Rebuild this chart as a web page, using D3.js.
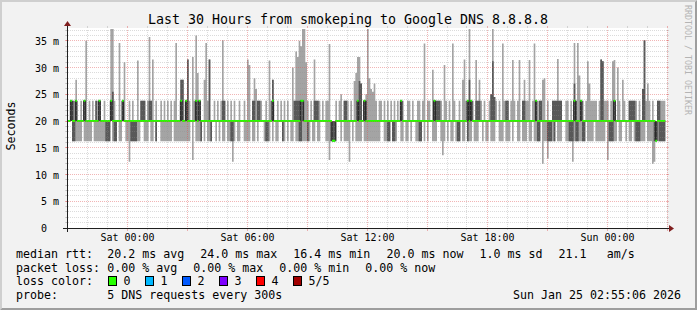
<!DOCTYPE html>
<html><head><meta charset="utf-8">
<script src="https://cdn.jsdelivr.net/npm/d3@7/dist/d3.min.js"></script>
<style>
html,body{margin:0;padding:0;background:#f2f2f2;}
svg{display:block;}
text{font-family:"DejaVu Sans Mono",monospace;fill:#000;}
</style></head><body>
<svg id="chart" width="697" height="310"></svg>
<script>
// ---------------- data ----------------
const titleText = "Last 30 Hours from smokeping to Google DNS 8.8.8.8";
const yAxisLabel = "Seconds";
const watermark = "RRDTOOL / TOBI OETIKER";
const startTime = new Date(2026, 0, 23, 21, 0);
const endTime = new Date(2026, 0, 25, 3, 0);
const stepMinutes = 5;
const yMax = 37.4;
const yTickValues = [0, 5, 10, 15, 20, 25, 30, 35];
const xTickLabels = ["Sat 00:00", "Sat 06:00", "Sat 12:00", "Sat 18:00", "Sun 00:00"];
const xTickTimes = [new Date(2026,0,24,0), new Date(2026,0,24,6), new Date(2026,0,24,12), new Date(2026,0,24,18), new Date(2026,0,25,0)];

// five sorted pings per 5-minute step (ms): lowest, 2nd, median, 4th, highest
const minRtt = [
20,20,20,16.2,16.2,16.2,16.2,16.2,16.2,20,16.2,16.2,
16.2,16.2,16.2,20,16.2,16.2,16.2,16.2,16.2,16.2,16.2,16.2,
16.2,16.2,20,16.2,16.2,16.2,20,16.2,16.2,20,20,16.2,
16.2,12.4,16.2,16.2,16.2,16.2,16.2,16.2,20,20,16.2,16.2,
16.2,20,16.2,16.2,20,16.2,20,20,16.2,16.2,16.2,16.2,
16.2,16.2,16.2,20,16.2,16.2,16.2,16.2,16.2,16.2,16.2,16.2,
16.2,16.2,20,12.7,20,16.2,16.2,16.2,16.2,20,16.2,20,
16.2,16.2,16.2,20,20,16.2,20,16.2,20,16.2,16.2,20,
16.2,16.2,16.2,12.4,16.2,20,16.2,16.2,20,20,16.2,16.2,
16.2,16.2,20,16.2,16.2,20,16.2,20,20,20,16.2,16.2,
16.2,16.2,20,16.2,20,16.2,16.2,20,20,16.2,16.2,20,
16.2,20,16.2,16.2,20,16.2,16.2,16.2,16.2,16.2,16.2,16.2,
16.2,16.2,20,16.2,16.2,20,16.2,16.2,20,20,20,16.2,
16.2,12.7,16.2,16.2,16.2,16.2,20,20,16.2,20,16.2,16.2,
16.2,12.4,20,16.2,20,16.2,16.2,16.2,16.2,20,16.2,16.2,
16.2,16.2,16.2,16.2,16.2,16.2,16.2,16.2,20,20,16.2,16.2,
16.2,16.2,20,16.2,16.2,16.2,20,20,16.2,16.2,20,16.2,
16.2,20,16.2,20,20,16.2,16.2,16.2,16.2,20,16.2,20,
16.2,20,20,16.2,16.2,16.2,20,20,16.2,13.6,16.2,20,
16.2,20,16.2,16.2,20,16.2,16.2,16.2,20,16.2,16.2,20,
16.2,16.2,16.2,20,16.2,16.2,16.2,20,20,16.2,20,16.2,
16.2,20,16.2,16.2,16.2,20,20,16.2,16.2,16.2,20,16.2,
16.2,16.2,20,16.2,20,20,16.2,16.2,20,16.2,16.2,16.2,
20,16.2,16.2,20,16.2,16.2,16.2,16.2,20,12,16.2,16.2,
13,16.2,16.2,16.2,16.2,20,16.2,16.2,16.2,20,20,16.2,
16.2,16.2,16.2,12.4,16.2,16.2,16.2,16.2,16.2,16.2,16.2,20,
16.2,16.2,16.2,16.2,20,16.2,16.2,16.2,16.2,16.2,16.2,20,
12.7,16.2,16.2,16.2,16.2,16.2,20,16.2,16.2,20,20,16.2,
20,16.2,16.2,20,16.2,16.2,16.2,16.2,16.2,16.2,16.2,20,
16.2,16.2,16.2,12,12.4,16.2,16.2,16.2,16.2,16.2,16.2];
const ping2 = [
20,20,20,16.2,16.2,20,20,20,20,20,20,20,
20,20,20,20,20,20,20,20,20,20,20,16.2,
16.2,16.2,20,20,16.2,16.2,20,20,20,20,20,20,
20,20,16.2,16.2,16.2,16.2,20,20,20,20,20,20,
20,20,20,20,20,16.2,20,20,20,20,20,20,
20,20,20,20,20,20,20,20,20,20,20,20,
20,20,20,20,20,20,20,20,16.2,20,20,20,
20,20,16.2,20,20,20,20,20,20,20,20,20,
20,20,16.2,16.2,20,20,20,20,20,20,20,20,
20,20,20,20,20,20,20,20,20,20,20,16.2,
16.2,20,20,20,20,20,20,20,20,16.2,20,20,
20,20,20,20,20,20,20,16.2,16.2,20,20,20,
16.2,20,20,20,20,20,20,20,20,20,20,20,
20,20,16.2,16.2,16.2,20,20,20,20,20,20,20,
20,20,20,20,20,20,20,20,20,20,20,20,
20,20,20,20,20,20,20,20,20,20,20,20,
16.2,16.2,20,16.2,16.2,20,20,20,20,20,20,20,
20,20,20,20,20,20,20,16.2,16.2,20,20,20,
20,20,20,20,20,20,20,20,20,20,20,20,
20,20,20,20,20,20,16.2,16.2,20,20,20,20,
16.2,20,20,20,20,20,20,20,20,20,20,20,
20,20,20,20,20,20,20,20,20,20,20,20,
20,20,20,20,20,20,20,20,20,20,20,20,
20,20,20,20,20,20,16.2,16.2,20,20,20,20,
16.2,16.2,16.2,20,16.2,20,20,20,20,20,20,20,
20,16.2,16.2,16.2,20,16.2,16.2,20,20,16.2,16.2,20,
20,20,20,20,20,20,20,20,20,20,20,20,
20,16.2,16.2,16.2,20,20,20,20,20,20,20,20,
20,20,20,20,20,16.2,16.2,16.2,20,20,20,20,
20,20,20,20,16.2,16.2,20,16.2,16.2,16.2,16.2];
const medianRtt = [
20,20,23.8,20,20,23.8,20,20,20,20,23.8,20,
20,20,20,20,20,20,20,23.8,20,20,20,20,
20,20,23.8,20,20,20,20,20,20,23.8,20,20,
20,20,20,20,20,20,20,20,20,20,20,20,
20,20,20,20,20,20,20,20,20,20,20,20,
20,20,20,20,20,20,20,20,23.8,20,20,23.8,
20,20,20,20,20,23.8,20,23.8,20,20,20,20,
20,20,20,20,20,20,20,20,20,20,20,20,
20,20,20,20,20,20,20,20,20,20,20,20,
20,20,20,20,20,20,20,20,20,20,20,20,
20,20,20,23.8,20,20,20,20,20,20,20,20,
20,20,20,20,20,20,20,20,23.8,23.8,20,20,
20,20,20,20,20,20,20,20,20,20,20,20,
20,20,20,16.3,16.3,20,20,20,20,20,20,20,
20,20,20,20,20,20,23.8,20,20,20,23.8,20,
20,20,20,20,20,20,20,20,20,20,20,20,
20,20,20,20,20,20,20,20,23.8,20,20,20,
20,20,20,20,20,20,20,20,20,20,20,20,
20,20,20,20,23.8,20,20,20,20,20,20,20,
20,20,20,20,20,20,20,20,20,20,20,20,
23.8,20,23.8,20,20,20,20,20,20,20,20,20,
20,20,20,20,20,20,20,20,20,20,20,20,
20,20,20,20,20,20,20,20,20,20,20,20,
20,20,20,20,20,23.8,20,20,20,20,20,20,
20,20,20,20,20,20,20,20,20,20,20,20,
20,20,20,20,23.8,20,20,20,23.8,20,20,20,
20,20,20,20,20,20,20,20,20,20,20,20,
20,20,20,20,23.8,20,20,20,20,20,20,20,
20,20,20,20,20,20,20,20,20,20,20,20,
20,20,20,20,20,16.3,20,20,20,20,20];
const ping4 = [
20,20,23.8,23.8,20,23.8,20,20,20,20,23.8,20,
20,20,20,20,20,23.8,20,23.8,20,20,20,20,
20,20,23.8,25.5,20,20,20,20,20,23.8,20,20,
20,20,20,20,20,20,20,20,23.8,23.8,23.8,20,
20,23.8,23.8,20,20,20,20,20,20,20,20,20,
20,20,20,20,20,20,20,20,27.7,27.7,20,23.8,
31.5,20,20,20,20,23.8,20,23.8,20,20,20,20,
20,31.5,20,20,20,20,20,20,20,23.8,23.8,20,
20,20,20,20,20,20,20,20,20,20,20,20,
20,20,20,23.8,23.8,20,23.8,23.8,20,20,20,20,
20,20,20,27.7,20,20,20,20,20,20,20,20,
20,20,20,20,23.8,23.8,23.8,23.8,23.8,23.8,20,20,
20,20,20,20,23.8,23.8,23.8,20,20,20,20,20,
20,20,20,20,20,20,20,20,20,20,23.8,23.8,
20,20,20,20,20,20,23.8,27.5,27,20,23.8,23.8,
20,20,20,20,20,20,20,20,20,20,20,20,
20,20,20,20,20,20,20,20,23.8,20,20,20,
20,20,20,20,20,20,20,20,20,20,20,20,
20,20,20,20,23.8,23.8,23.8,23.8,20,20,20,20,
20,20,20,20,20,20,20,20,20,20,20,20,
23.8,27.7,23.8,20,20,23.8,23.8,23.8,20,20,20,20,
20,20,25,31.2,24.5,20,20,20,20,20,20,23.8,
23.8,20,20,20,20,20,20,20,20,23.8,23.8,20,
20,20,20,20,20,23.8,20,23.8,23.8,20,20,20,
20,20,20,23.8,23.8,23.8,23.8,23.8,23.8,20,20,20,
20,20,20,20,27,23.8,20,20,23.8,20,20,20,
20,20,20,20,20,20,20,20,31.5,31.2,20,20,
20,20,20,20,23.8,20,20,20,20,20,20,20,
20,23.8,23.8,23.8,23.8,20,20,20,20,26,35.1,20,
20,20,20,20,20,20,23.8,23.8,20,20,20];
const maxRtt = [
20,20,23.8,23.8,23.8,27.7,20,20,23.8,20,23.8,35,
20,23.8,20,23.8,20,23.8,23.8,23.8,20,20,23.8,20,
20,20,37.2,37.2,23.8,20,20,34.6,20,23.8,31,20,
20,23.8,20,23.8,20,20,31.3,20,23.8,23.8,23.8,20,
23.8,35.7,23.8,31.5,20,23.8,20,20,23.8,20,23.8,20,
23.8,20,23.8,20,23.8,34.6,20,20,27.7,27.7,20,23.8,
31.5,23.8,20,32,23.8,36,29,23.8,20,20,27.7,34.6,
23.8,31.5,20,20,23.8,20,23.8,20,23.8,35.1,23.8,20,
23.8,20,23.8,20,23.8,20,20,23.8,20,20,23.8,20,
31.5,30.5,20,23.8,28,26,23.8,23.8,23.8,20,20,23.8,
20,31.3,23.8,27.7,20,20,23.8,20,23.8,20,23.8,20,
23.8,20,20,30,23.8,33,32,35,34,37.2,37.2,31,
23.8,20,23.8,20,31.5,23.8,23.8,23.8,20,23.8,20,23.8,
23.8,34.4,20,20,20,23.8,20,23.8,25,20,23.8,23.8,
23.8,20,23.8,20,27.5,29,32,32,27,20,23.8,25,
37.2,28,26,25.5,27,23.8,20,23.8,23.8,20,23.8,20,
23.8,20,23.8,20,23.8,20,23.8,20,23.8,23.8,20,20,
23.8,23.8,20,23.8,20,20,23.8,23.8,20,23.8,34.5,20,
23.8,23.8,20,29.6,23.8,23.8,23.8,23.8,23.8,20,30.5,23.8,
20,23.8,20,34.5,23.8,20,20,23.8,20,27.7,31.5,23.8,
23.8,37.2,23.8,23.8,20,31.4,23.8,27.7,23.8,20,23.8,20,
20,23.8,25,37.2,24.5,23.8,20,23.8,20,34.5,23.8,23.8,
23.8,20,23.8,31.4,23.8,20,23.8,31.4,20,23.8,27.7,23.8,
23.8,31.4,20,23.8,34.5,23.8,20,23.8,23.8,27.7,28,20,
23.8,20,20,23.8,23.8,23.8,31.6,23.8,23.8,20,20,23.8,
23.8,20,23.8,20,34.6,23.8,34.6,28.5,23.8,23.8,20,23.8,
31.2,27,23.8,23.8,23.8,23.8,20,23.8,31.5,31.2,23.8,23.8,
23.8,20,23.8,31.2,31.4,20,30,23.8,20,27.7,23.8,20,
20,23.8,23.8,23.8,23.8,23.8,20,23.8,20,26,35.1,23.8,
27,23.8,20,23.8,20,20,23.8,23.8,23.8,23.8,23.8];

const legendRowLabels = ["median rtt:", "packet loss:", "loss color:", "probe:"];
const medianStats = ["20.2 ms avg", "24.0 ms max", "16.4 ms min", "20.0 ms now", "1.0 ms sd", "21.1", "am/s"];
const lossStats = ["0.00 % avg", "0.00 % max", "0.00 % min", "0.00 % now"];
const lossLabels = ["0", "1", "2", "3", "4", "5/5"];
const lossColors = ["#26ff00", "#00b8ff", "#0059ff", "#7e00ff", "#ff0000", "#a10000"];
const probeText = "5 DNS requests every 300s";
const stampText = "Sun Jan 25 02:55:06 2026";

// ---------------- layout ----------------
const W = 697, H = 310;
const X0 = 67, X1 = 667, Y0 = 228, Y1 = 28;
const svg = d3.select("#chart");
const x = d3.scaleTime().domain([startTime, endTime]).range([X0, X1]);
const y = d3.scaleLinear().domain([0, yMax]).range([Y0, Y1]);

// background + 3d border
svg.append("rect").attr("width", W).attr("height", H).attr("fill", "#f2f2f2");
svg.append("path").attr("d", `M0,0H${W}L${W-2},2H2V${H-2}L0,${H}Z`).attr("fill", "#cfcfcf");
svg.append("path").attr("d", `M${W},0V${H}H0L2,${H-2}H${W-2}V2Z`).attr("fill", "#9e9e9e");
svg.append("rect").attr("x", X0).attr("y", Y1).attr("width", X1 - X0).attr("height", Y0 - Y1).attr("fill", "#fff");

// data rows
const rows = minRtt.map((v, i) => ({
  t: d3.timeMinute.offset(startTime, i * stepMinutes),
  lo: v, q1: ping2[i], med: medianRtt[i], q3: ping4[i], hi: maxRtt[i]
}));
rows.push(Object.assign({}, rows[rows.length - 1], {t: d3.timeMinute.offset(startTime, minRtt.length * stepMinutes)}));

svg.append("clipPath").attr("id", "cv").append("rect").attr("x", X0).attr("y", Y1).attr("width", X1 - X0).attr("height", Y0 - Y1);
const g = svg.append("g").attr("clip-path", "url(#cv)");

// smoke: outer band (light) and inner band (dark)
g.append("path").datum(rows).attr("fill", "#a4a4a4")
  .attr("d", d3.area().curve(d3.curveStepAfter).x(d => x(d.t)).y0(d => y(d.lo)).y1(d => y(d.hi)));
g.append("path").datum(rows).attr("fill", "#585858")
  .attr("d", d3.area().curve(d3.curveStepAfter).x(d => x(d.t)).y0(d => y(d.q1)).y1(d => y(d.q3)));
// median thin dark line, then loss-coloured band
g.append("path").datum(rows).attr("fill", "none").attr("stroke", "#202020").attr("stroke-width", 1)
  .attr("d", d3.line().curve(d3.curveStepAfter).x(d => x(d.t)).y(d => y(d.med)));
g.append("path").datum(rows).attr("fill", lossColors[0])
  .attr("d", d3.area().curve(d3.curveStepAfter).x(d => x(d.t)).y0(d => y(d.med) + 1).y1(d => y(d.med) - 1));

// grid (drawn over data, as rrdtool does)
const gridMinor = "rgba(143,143,143,0.32)", gridMajor = "rgba(222,79,79,0.42)";
const grid = svg.append("g").attr("shape-rendering", "crispEdges");
d3.range(1, Math.floor(yMax) + 1).forEach(v => {
  const yy = Math.floor(y(v)) + 0.5;
  const major = v % 5 === 0;
  const c = major ? gridMajor : gridMinor;
  grid.append("line").attr("x1", X0 - 1).attr("x2", X1 + 1).attr("y1", yy).attr("y2", yy)
    .attr("stroke", c).attr("stroke-dasharray", "1,1");
  grid.append("line").attr("x1", X0 - 2).attr("x2", X0).attr("y1", yy).attr("y2", yy).attr("stroke", c);
  grid.append("line").attr("x1", X1).attr("x2", X1 + 2).attr("y1", yy).attr("y2", yy).attr("stroke", c);
});
d3.timeHour.range(startTime, d3.timeHour.offset(endTime, 1)).forEach(t => {
  const xx = Math.floor(x(t)) + 0.5;
  const major = t.getHours() % 3 === 0;
  const c = major ? gridMajor : gridMinor;
  grid.append("line").attr("x1", xx).attr("x2", xx).attr("y1", Y0 - 1).attr("y2", Y1 + 1)
    .attr("stroke", c).attr("stroke-dasharray", "1,1");
  grid.append("line").attr("x1", xx).attr("x2", xx).attr("y1", Y0).attr("y2", Y0 + (major ? 3 : 2)).attr("stroke", c);
  grid.append("line").attr("x1", xx).attr("x2", xx).attr("y1", Y1 - 2).attr("y2", Y1).attr("stroke", c);
});

// axes lines + arrows
const axisCol = "#1f1f1f", arrowCol = "#801f1f";
svg.append("line").attr("x1", X0 - 4).attr("x2", X1 + 4).attr("y1", Y0 + 0.5).attr("y2", Y0 + 0.5)
  .attr("stroke", axisCol).attr("stroke-width", 1).attr("shape-rendering", "crispEdges");
svg.append("line").attr("x1", X0 + 0.5).attr("x2", X0 + 0.5).attr("y1", Y0 + 4).attr("y2", Y1 - 4)
  .attr("stroke", axisCol).attr("stroke-width", 1).attr("shape-rendering", "crispEdges");
svg.append("path").attr("d", `M${X1+2},${Y0-3}L${X1+2},${Y0+4}L${X1+7},${Y0+0.5}Z`).attr("fill", arrowCol);
svg.append("path").attr("d", `M${X0-3},${Y1-2}L${X0+4},${Y1-2}L${X0+0.5},${Y1-7}Z`).attr("fill", arrowCol);

// y axis labels (via d3 axis)
const axFont = 9.97;
const yAx = svg.append("g").attr("transform", `translate(59,0)`)
  .call(d3.axisLeft(y).tickValues(yTickValues).tickSize(0).tickPadding(0)
    .tickFormat(d => d === 0 ? "0" : d + " m"));
yAx.select(".domain").remove();
yAx.selectAll("text").attr("font-family", "DejaVu Sans Mono").attr("font-size", axFont)
  .attr("fill", "#000").attr("dy", "0.36em")
  .attr("dx", d => d === 0 ? -2 * 0.602 * axFont : 0);

// x axis labels (via d3 axis)
const xAx = svg.append("g").attr("transform", `translate(0,${Y0})`)
  .call(d3.axisBottom(x).tickValues(xTickTimes).tickSize(0)
    .tickFormat((d, i) => xTickLabels[i]));
xAx.select(".domain").remove();
xAx.selectAll("text").attr("font-family", "DejaVu Sans Mono").attr("font-size", axFont)
  .attr("fill", "#000").attr("y", 13).attr("dy", 0);

// title
svg.append("text").attr("x", W / 2 - 0.5).attr("y", 24).attr("text-anchor", "middle")
  .attr("font-size", 13.29).text(titleText);
// unit label
svg.append("text").attr("transform", "translate(15,126) rotate(-90)").attr("text-anchor", "middle")
  .attr("font-size", 11.63).text(yAxisLabel);
// watermark
svg.append("text").attr("transform", "translate(685,5) rotate(90)").attr("text-anchor", "start")
  .attr("font-size", 8.3).style("fill", "#b4b4b4").text(watermark);

// legend
const lgFont = 11.63;
const rowY = [258, 271.7, 285.3, 299];
const lg = svg.append("g").attr("font-size", lgFont);
legendRowLabels.forEach((t, i) => lg.append("text").attr("x", 16).attr("y", rowY[i]).text(t));
const medX = [107.3, 200.3, 293.3, 386.6, 479.6, 558.6, 606.7];
medianStats.forEach((t, i) => lg.append("text").attr("x", medX[i]).attr("y", rowY[0]).text(t));
const lossX = [107.3, 193.3, 279.3, 365.3];
lossStats.forEach((t, i) => lg.append("text").attr("x", lossX[i]).attr("y", rowY[1]).text(t));
lossLabels.forEach((t, i) => {
  const bx = 108.5 + i * 37;
  lg.append("rect").attr("x", bx).attr("y", 276.5).attr("width", 8).attr("height", 9)
    .attr("fill", lossColors[i]).attr("stroke", "#000").attr("stroke-width", 1);
  lg.append("text").attr("x", bx + 15).attr("y", rowY[2]).text(t);
});
lg.append("text").attr("x", 107.3).attr("y", rowY[3]).text(probeText);
lg.append("text").attr("x", 681).attr("y", rowY[3]).attr("text-anchor", "end").text(stampText);
</script>
</body></html>
